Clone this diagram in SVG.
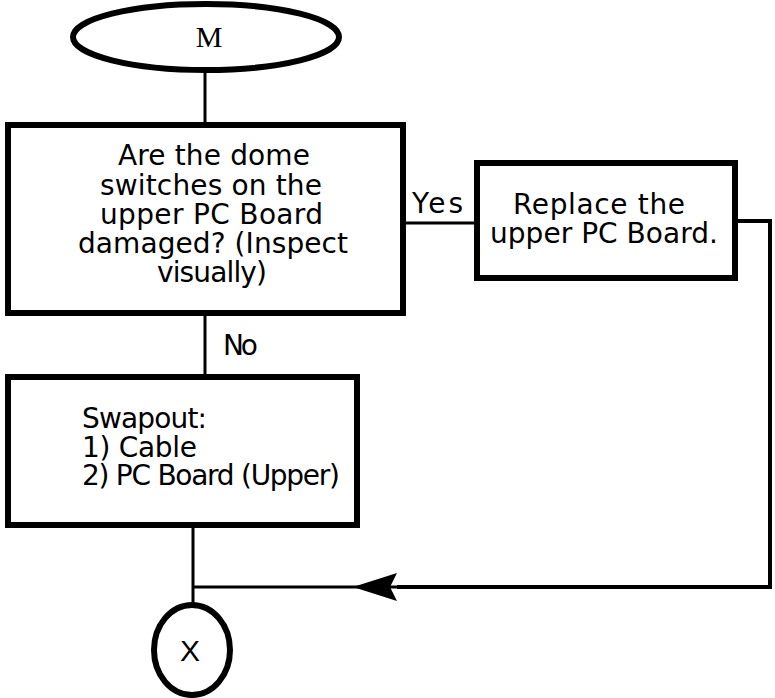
<svg xmlns="http://www.w3.org/2000/svg" width="775" height="698" viewBox="0 0 775 698">
<style>
.node{fill:#fff;stroke:#000;stroke-width:6}
.conn{fill:none;stroke:#000;stroke-width:3}
.t{font-family:"DejaVu Sans","Liberation Sans",sans-serif;font-size:28px;fill:#000}
</style>
<rect width="775" height="698" fill="#fff"/>
<g id="connectors">
<line class="conn" x1="205" y1="70" x2="205" y2="125"/>
<line class="conn" x1="205" y1="313" x2="205" y2="377"/>
<line class="conn" x1="403" y1="223" x2="477" y2="223"/>
<polyline class="conn" points="735,221 770,221 770,587 397,587" style="stroke-width:4"/>
<line class="conn" x1="397" y1="587" x2="193" y2="587"/>
<path d="M353,587 L397,573 L390,587 L397,601 Z" fill="#000"/>
<line class="conn" x1="193" y1="525" x2="193" y2="604"/>
<text class="t" x="412" y="213" textLength="51">Yes</text>
<text class="t" x="223" y="355" textLength="35">No</text>
</g>
<g id="start">
<ellipse class="node" cx="206" cy="37" rx="133" ry="33"/>
<text x="209" y="47" text-anchor="middle" font-family="Liberation Serif,serif" font-size="30">M</text>
</g>
<g id="question">
<rect class="node" x="8" y="125" width="395" height="188"/>
<text class="t" x="118" y="165" textLength="192">Are the dome</text>
<text class="t" x="100" y="195" textLength="222">switches on the</text>
<text class="t" x="100" y="224" textLength="223">upper PC Board</text>
<text class="t" x="78" y="253" textLength="270">damaged? (Inspect</text>
<text class="t" x="157" y="282" textLength="110">visually)</text>
</g>
<g id="replace">
<rect class="node" x="477" y="163" width="258" height="115"/>
<text class="t" x="513" y="214" textLength="172">Replace the</text>
<text class="t" x="490" y="243" textLength="228">upper PC Board.</text>
</g>
<g id="swapout">
<rect class="node" x="8" y="377" width="349" height="148"/>
<text class="t" x="82" y="428" textLength="125">Swapout:</text>
<text class="t" x="82" y="457" textLength="115">1) Cable</text>
<text class="t" x="82" y="485" textLength="258">2) PC Board (Upper)</text>
</g>
<g id="end">
<ellipse class="node" cx="192" cy="650" rx="38" ry="45"/>
<text x="190" y="661" text-anchor="middle" font-family="Liberation Sans,sans-serif" font-size="30">X</text>
</g>
</svg>
